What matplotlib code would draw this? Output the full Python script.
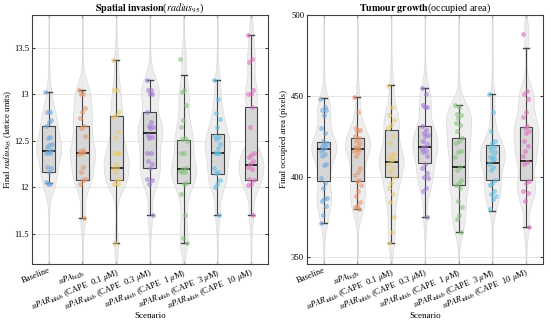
import numpy as np
import matplotlib
matplotlib.use("Agg")
from matplotlib import pyplot as plt

plt.rcParams['font.family'] = ['Liberation Serif', 'DejaVu Serif']
plt.rcParams['mathtext.fontset'] = 'stix'

scenarios = [r"Baseline", r"$uPA_{\mathrm{high}}$",
             r"$uPAR_{\mathrm{inhib}}$ (CAPE  0.1 $\mu$M)",
             r"$uPAR_{\mathrm{inhib}}$ (CAPE  0.3 $\mu$M)",
             r"$uPAR_{\mathrm{inhib}}$ (CAPE  1 $\mu$M)",
             r"$uPAR_{\mathrm{inhib}}$ (CAPE  3 $\mu$M)",
             r"$uPAR_{\mathrm{inhib}}$ (CAPE  10 $\mu$M)"]
colors = ['#72a8dc', '#e8956a', '#eccb6e', '#a67ad8', '#86c27c', '#5fc0e6', '#de6fc0']

# radius_95 per run (lattice units)
radius = [
    [13.02, 12.81, 12.81, 12.72, 12.70, 12.66, 12.54, 12.53, 12.47, 12.45, 12.43,
     12.40, 12.38, 12.37, 12.37, 12.22, 12.21, 12.17, 12.06, 12.04, 12.04],
    [13.04, 13.00, 13.00, 12.85, 12.81, 12.74, 12.66, 12.64, 12.55, 12.40, 12.39,
     12.38, 12.37, 12.36, 12.22, 12.17, 12.09, 12.08, 12.04, 11.67],
    [13.37, 13.04, 13.04, 12.81, 12.78, 12.76, 12.59, 12.53, 12.37, 12.37, 12.37,
     12.37, 12.25, 12.21, 12.21, 12.17, 12.09, 12.08, 12.04, 12.04, 11.40],
    [13.15, 13.04, 13.04, 13.00, 13.00, 12.81, 12.70, 12.66, 12.65, 12.64, 12.56,
     12.54, 12.53, 12.37, 12.37, 12.28, 12.25, 12.21, 12.09, 12.08, 12.04, 11.70],
    [13.38, 13.04, 13.02, 12.88, 12.72, 12.65, 12.53, 12.52, 12.50, 12.37, 12.37,
     12.21, 12.20, 12.18, 12.17, 12.16, 12.05, 12.04, 11.93, 11.70, 11.46, 11.40],
    [13.15, 12.95, 12.80, 12.73, 12.65, 12.55, 12.54, 12.52, 12.47, 12.42, 12.37,
     12.37, 12.37, 12.21, 12.17, 12.15, 12.08, 12.04, 12.00, 11.70],
    [13.63, 13.38, 13.34, 13.04, 13.00, 13.00, 12.86, 12.65, 12.37, 12.35, 12.33,
     12.28, 12.25, 12.22, 12.20, 12.09, 12.08, 12.04, 12.03, 11.70],
]
radius_q1 = [12.17, 12.08, 12.08, 12.21, 12.05, 12.14, 12.08]
radius_med = [12.39, 12.37, 12.21, 12.58, 12.20, 12.37, 12.24]
radius_q3 = [12.66, 12.66, 12.77, 12.81, 12.51, 12.57, 12.86]
radius_lo = [12.05, 11.67, 11.40, 11.70, 11.40, 11.70, 11.70]
radius_hi = [13.02, 13.04, 13.37, 13.15, 13.21, 13.15, 13.63]

# occupied area per run (pixels)
area = [
    [448, 443, 441, 441, 438, 430, 427, 422, 421, 420, 419, 418, 417, 416, 414,
     413, 408, 407, 399, 396, 393, 387, 386, 385, 382, 376, 371],
    [449, 440, 430, 429, 428, 425, 424, 422, 421, 419, 418, 417, 417, 416, 415,
     413, 405, 403, 401, 398, 397, 395, 391, 388, 384, 382, 381, 380],
    [456, 443, 438, 435, 432, 430, 425, 421, 414, 414, 412, 411, 410, 408, 405,
     403, 400, 396, 393, 389, 384, 375, 366, 359],
    [455, 451, 444, 443, 443, 431, 429, 427, 426, 425, 422, 420, 418, 417, 416,
     415, 413, 408, 405, 402, 400, 399, 393, 391, 375],
    [444, 443, 439, 438, 436, 433, 432, 428, 424, 422, 421, 416, 415, 412, 406,
     404, 398, 396, 395, 393, 385, 381, 376, 374, 366],
    [451, 440, 428, 422, 421, 418, 418, 416, 415, 413, 412, 411, 410, 408, 406,
     404, 398, 396, 395, 391, 389, 388, 386, 380],
    [488, 453, 451, 448, 440, 437, 431, 430, 428, 427, 422, 419, 416, 413, 409,
     408, 397, 396, 391, 390, 385, 369],
]
area_q1 = [397, 397, 400, 408.5, 395, 397.7, 397.7]
area_med = [417, 417, 409, 418.5, 406, 408.5, 409.6]
area_q3 = [421.5, 424, 429, 431, 423.7, 419.6, 430.4]
area_lo = [371, 380, 359, 375, 366, 379, 369]
area_hi = [448.5, 449, 456.5, 455, 444.5, 451, 479.5]


def kde(vals, grid, bw):
    vals = np.asarray(vals, float)
    d = (grid[:, None] - vals[None, :]) / bw
    return np.exp(-0.5 * d ** 2).sum(axis=1)


def panel(ax, data, q1, med, q3, lo, hi, ylim, bw):
    grid = np.linspace(ylim[0], ylim[1], 300)
    for i, vals in enumerate(data):
        x = i + 1
        dens = kde(vals, grid, bw)
        dens = dens / dens.max() * 0.36 + 0.012
        ax.fill_betweenx(grid, x - dens, x + dens, color='#e8e8e8', alpha=0.7,
                         edgecolor='#cfcfcf', linewidth=0.5, zorder=1)
    stats = [dict(med=med[i], q1=q1[i], q3=q3[i], whislo=lo[i], whishi=hi[i],
                  fliers=[]) for i in range(len(data))]
    ax.bxp(stats, positions=np.arange(1, len(data) + 1), widths=0.38,
           patch_artist=True, showfliers=False,
           boxprops=dict(facecolor='#d6d6d6', edgecolor='#454545', linewidth=0.8),
           medianprops=dict(color='black', linewidth=1.1),
           whiskerprops=dict(color='#454545', linewidth=0.8),
           capprops=dict(color='#454545', linewidth=1.0), capwidths=0.18,
           zorder=2)
    for i, vals in enumerate(data):
        n = len(vals)
        jit = ((np.arange(n) * 0.618034) % 1.0 - 0.5) * 0.2
        ax.scatter(i + 1 + jit, vals, s=8, color=colors[i], alpha=0.55,
                   edgecolors=colors[i], linewidths=0.6, zorder=3)
    ax.set_xlim(0.5, len(data) + 0.5)
    ax.set_ylim(*ylim)
    ax.set_xticks(np.arange(1, len(data) + 1))
    ax.set_xticklabels(scenarios, rotation=22, ha='right', rotation_mode='anchor',
                       fontsize=5.2)
    ax.grid(True, color='#e0e0e0', linewidth=0.6, zorder=0)
    ax.set_axisbelow(True)
    ax.tick_params(direction='in', top=True, right=True, labelsize=6.2,
                   length=2.5, color='#404040', pad=2)
    for s in ax.spines.values():
        s.set_color('#404040')
        s.set_linewidth(0.8)
    ax.set_xlabel("Scenario", fontsize=6.5)
    ax.xaxis.set_label_coords(0.5, -0.195)


fig = plt.figure(figsize=(5.5, 3.23), dpi=100)
ax1 = fig.add_axes([0.058, 0.183, 0.429, 0.771])
ax2 = fig.add_axes([0.558, 0.183, 0.429, 0.771])

panel(ax1, radius, radius_q1, radius_med, radius_q3, radius_lo, radius_hi,
      (11.18, 13.85), 0.13)
ax1.set_yticks([11.5, 12, 12.5, 13, 13.5])
ax1.set_yticklabels(['11.5', '12', '12.5', '13', '13.5'])
ax1.set_ylabel(r"Final $\mathit{radius}_{95}$ (lattice units)", fontsize=6.3)
ax1.yaxis.set_label_coords(-0.074, 0.5)
ax1.set_title(r"$\mathbf{Spatial\ invasion}$($\mathit{radius}_{95}$)", fontsize=7.2, pad=3)

panel(ax2, area, area_q1, area_med, area_q3, area_lo, area_hi, (346, 500), 7.0)
ax2.set_yticks([350, 400, 450, 500])
ax2.set_ylabel("Final occupied area (pixels)", fontsize=6.3)
ax2.yaxis.set_label_coords(-0.078, 0.5)
ax2.set_title(r"$\mathbf{Tumour\ growth}$(occupied area)", fontsize=7.2, pad=3)

fig.savefig("out.png", dpi=100)
